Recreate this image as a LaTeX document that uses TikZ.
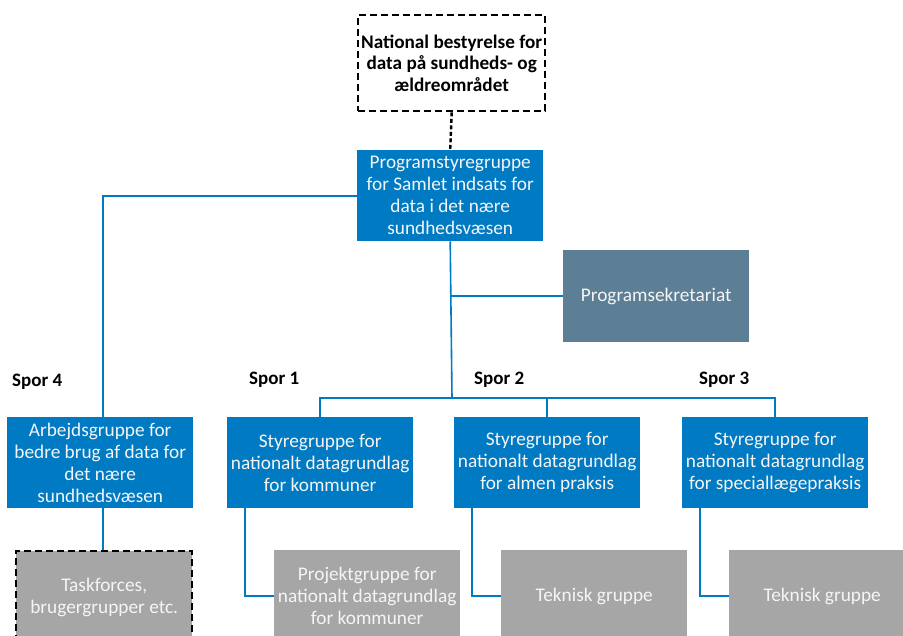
\documentclass[tikz,border=0pt]{standalone}
\usepackage{fontspec}
\setmainfont{Carlito}
\definecolor{mainblue}{RGB}{0,122,194}
\definecolor{sekblue}{RGB}{92,127,149}
\definecolor{boxgray}{RGB}{166,166,166}
\definecolor{txtwhite}{RGB}{245,245,245}
\tikzset{
  bluebox/.style={fill=mainblue, text=txtwhite, minimum width=186pt, minimum height=91pt, anchor=north west, align=center, inner sep=0pt, font=\fontsize{19.3}{22}\selectfont},
  sekbox/.style={bluebox, fill=sekblue},
  graybox/.style={bluebox, fill=boxgray, minimum height=92pt},
  dashbox/.style={draw=black, line width=2.4pt, dash pattern=on 7pt off 4pt},
  conn/.style={draw=mainblue, line width=1.6pt},
  conn3/.style={draw=mainblue, line width=2.2pt},
  spor/.style={anchor=west, inner sep=0pt, font=\fontsize{19}{22}\selectfont\bfseries}
}
\begin{document}
\begin{tikzpicture}[x=1pt,y=-1pt]
\useasboundingbox (0,0) rectangle (903,636);
\clip (0,0) rectangle (903,636);
% top board
\node[dashbox, minimum width=187pt, minimum height=96pt, anchor=north west, align=center, inner sep=0pt, font=\fontsize{19.2}{21.5}\selectfont\bfseries] (board) at (357,14) {National bestyrelse for\\data på sundheds- og\\ældreområdet};
\node[bluebox] (prog) at (357,150) {Programstyregruppe\\for Samlet indsats for\\data i det nære\\sundhedsvæsen};
\node[sekbox, minimum height=92pt] (sek) at (563,250) {Programsekretariat};
% level 2
\node[bluebox] (arb) at (7,417) {Arbejdsgruppe for\\bedre brug af data for\\det nære\\sundhedsvæsen};
\node[bluebox] (sg1) at (227,417) {Styregruppe for\\nationalt datagrundlag\\for kommuner};
\node[bluebox] (sg2) at (454,417) {Styregruppe for\\nationalt datagrundlag\\for almen praksis};
\node[bluebox] (sg3) at (682,417) {Styregruppe for\\nationalt datagrundlag\\for speciallægepraksis};
% labels
\node[spor] (s4) at (12,382) {Spor 4};
\node[spor] (s1) at (249,380) {Spor 1};
\node[spor] (s2) at (474,380) {Spor 2};
\node[spor] (s3) at (699,380) {Spor 3};
% level 3
\node[graybox, dashbox, fill=boxgray, minimum width=176pt] (task) at (15,550) {Taskforces,\\brugergrupper etc.};
\node[graybox] (proj) at (274,550) {Projektgruppe for\\nationalt datagrundlag\\for kommuner};
\node[graybox] (tek1) at (501,550) {Teknisk gruppe};
\node[graybox] (tek2) at (729,550) {Teknisk gruppe};
% connectors
\draw[line width=2.4pt, dash pattern=on 4pt off 2.5pt] (board.south) -- (prog.north);
\coordinate (bus) at (452,398);
\coordinate (left) at (103,196);
\draw[conn] (prog.west |- left) -- (left) -- (left |- arb.north);
\draw[conn] (prog.south) -- (bus);
\draw[conn] (sek.west) -- (sek.west -| prog.south);
\draw[conn] (bus) -| (sg1.north);
\draw[conn] (bus) -| (sg2.north);
\draw[conn] (bus) -| (sg3.north);
\draw[conn] (left |- arb.south) -- (left |- task.north);
\draw[conn3] ([xshift=18pt]sg1.south west) |- (proj.west);
\draw[conn3] ([xshift=18pt]sg2.south west) |- (tek1.west);
\draw[conn3] ([xshift=18pt]sg3.south west) |- (tek2.west);
\end{tikzpicture}
\end{document}
